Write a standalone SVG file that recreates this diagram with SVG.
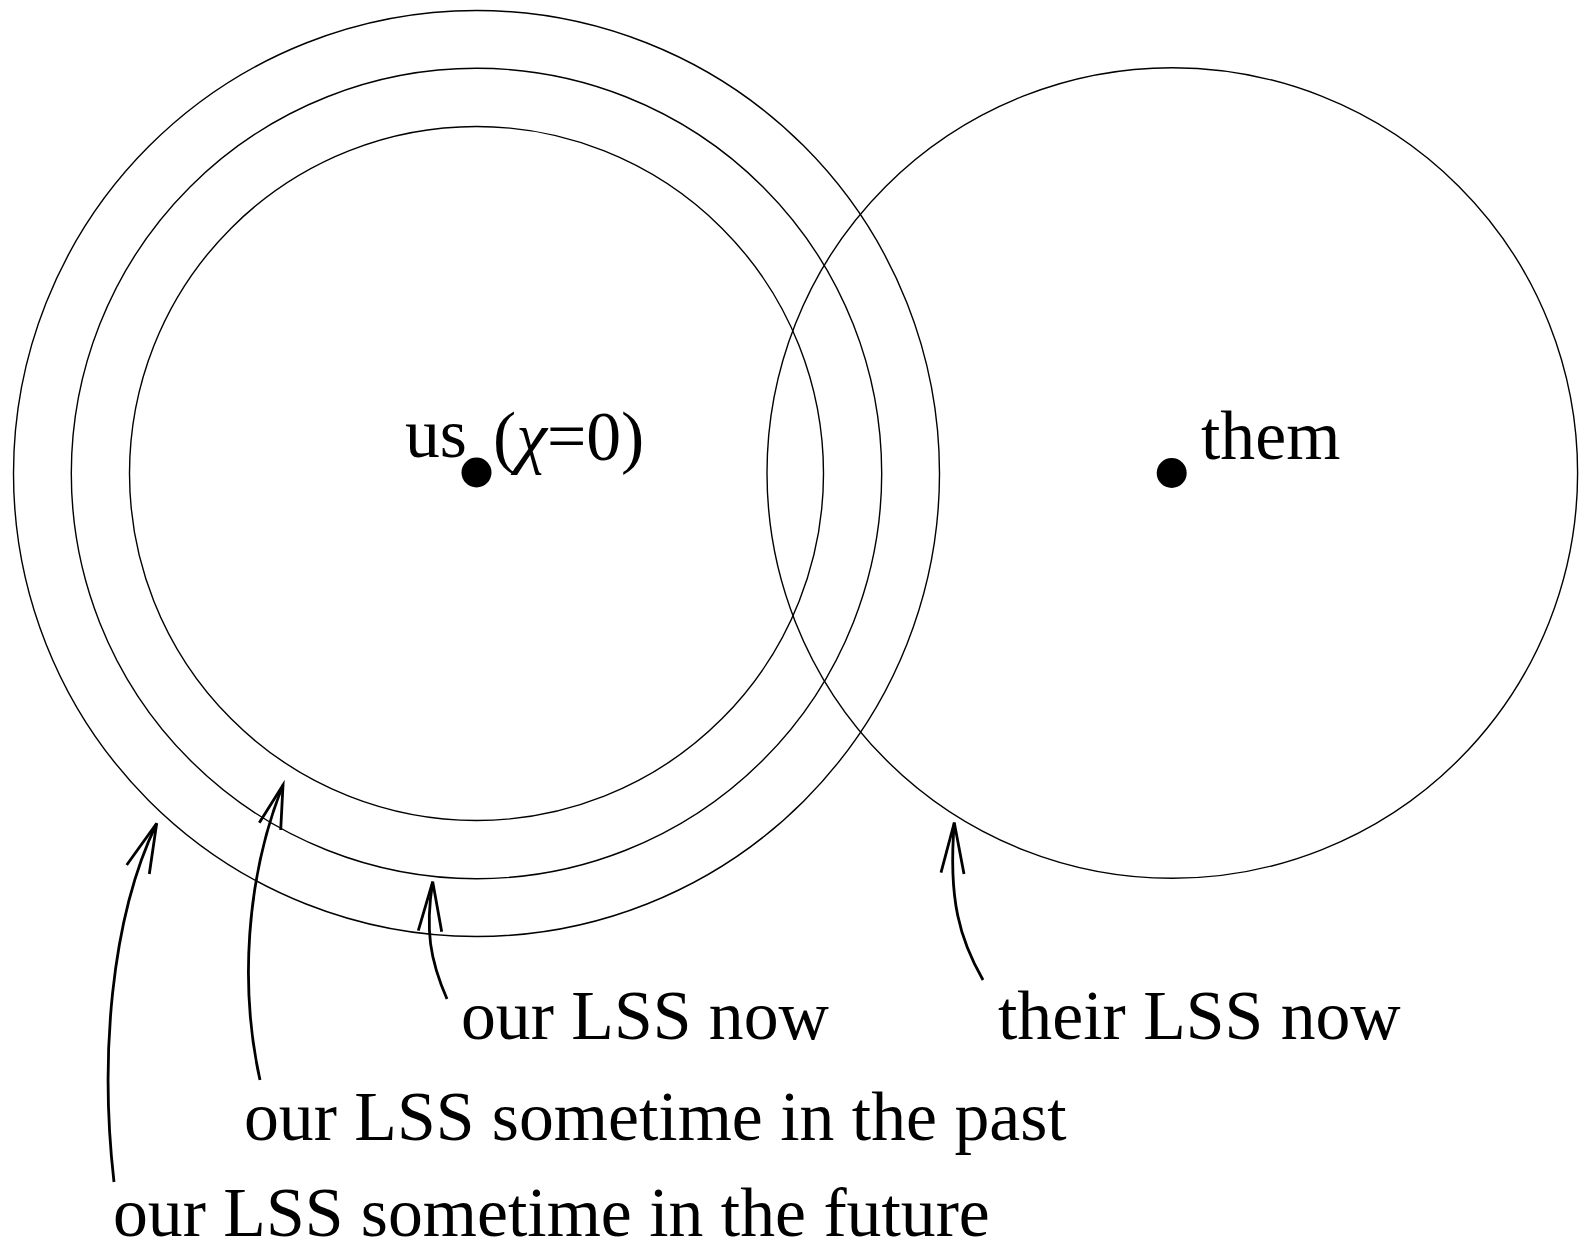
<svg xmlns="http://www.w3.org/2000/svg" width="1582" height="1248" viewBox="0 0 1582 1248">
  <style>
    .ring { fill: none; stroke: #000; stroke-width: 1.4; }
    .dot { fill: #000; stroke: none; }
    .lbl { font-family: "Liberation Serif", "Times New Roman", serif; font-size: 69.7px; fill: #000; }
    .arrow { fill: none; stroke: #000; stroke-width: 2.8; stroke-linecap: butt; stroke-linejoin: miter; }
  </style>

  <!-- our light-sphere shells, centred on us -->
  <g id="us-node">
    <circle class="ring" cx="476.5" cy="473.5" r="463"/>
    <circle class="ring" cx="476.5" cy="473.5" r="405.2"/>
    <circle class="ring" cx="476.5" cy="473.5" r="347"/>
    <circle class="dot" cx="476.5" cy="472.5" r="15"/>
    <text class="lbl" x="405" y="457">us</text>
    <text class="lbl" x="493" y="460">(<tspan font-style="italic">χ</tspan>=0)</text>
  </g>

  <!-- their light-sphere, centred on them -->
  <g id="them-node">
    <circle class="ring" cx="1172.3" cy="473" r="405.3"/>
    <circle class="dot" cx="1171.7" cy="473" r="15"/>
    <text class="lbl" x="1201" y="459">them</text>
  </g>

  <!-- labels -->
  <g id="labels">
    <text class="lbl" x="461" y="1039">our LSS now</text>
    <text class="lbl" x="998" y="1039">their LSS now</text>
    <text class="lbl" x="244" y="1140">our LSS sometime in the past</text>
    <text class="lbl" x="113" y="1236">our LSS sometime in the future</text>
  </g>

  <!-- curved pointers from labels to shells -->
  <g id="connectors">
    <path class="arrow" d="M114,1182 C100,1060 110,920 156.7,823.3"/>
    <path class="arrow" d="M126.7,865 L156.7,823.3 L149.3,874"/>

    <path class="arrow" d="M260,1080 C240,990 245,880 283,785"/>
    <path class="arrow" d="M259.3,822.7 L283,785 L280.7,830"/>

    <path class="arrow" d="M447,999 C430,960 425,930 432.7,881.7"/>
    <path class="arrow" d="M418.3,930.7 L432.7,881.7 L441.7,931.7"/>

    <path class="arrow" d="M983,980 C960,940 948,900 954.3,822.7"/>
    <path class="arrow" d="M941,872.7 L954.3,822.7 L964,874"/>
  </g>
</svg>
